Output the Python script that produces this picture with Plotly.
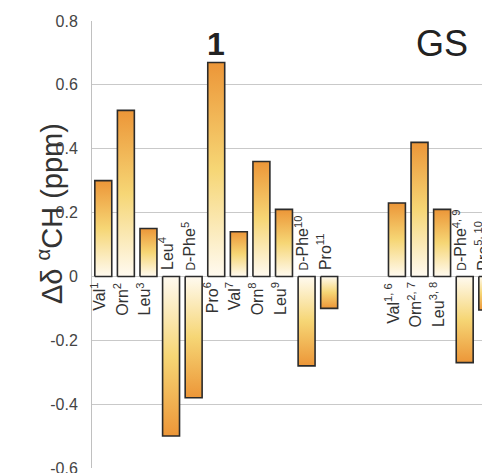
import plotly.graph_objects as go

# Data
labels_1 = ["Val<sup>1</sup>", "Orn<sup>2</sup>", "Leu<sup>3</sup>", "Leu<sup>4</sup>",
            "<span style='font-size:12px'>D</span>-Phe<sup>5</sup>", "Pro<sup>6</sup>", "Val<sup>7</sup>",
            "Orn<sup>8</sup>", "Leu<sup>9</sup>",
            "<span style='font-size:12px'>D</span>-Phe<sup>10</sup>", "Pro<sup>11</sup>"]
values_1 = [0.30, 0.52, 0.15, -0.50, -0.38, 0.67, 0.14, 0.36, 0.21, -0.28, -0.10]
positions_1 = [0, 1, 2, 3, 4, 5, 6, 7, 8, 9, 10]

labels_gs = ["Val<sup>1, 6</sup>", "Orn<sup>2, 7</sup>", "Leu<sup>3, 8</sup>",
             "<span style='font-size:12px'>D</span>-Phe<sup>4, 9</sup>", "Pro<sup>5, 10</sup>"]
values_gs = [0.23, 0.42, 0.21, -0.27, -0.105]
positions_gs = [13, 14, 15, 16, 17]

tick_vals = [-0.6, -0.4, -0.2, 0, 0.2, 0.4, 0.6, 0.8]
tick_text = ["-0.6", "-0.4", "-0.2", "0", "0.2", "0.4", "0.6", "0.8"]

FONT = "Liberation Sans, Arial, sans-serif"
BAR_W = 0.75
scale_pos = [[0, "#fffaf0"], [0.5, "#f6d675"], [1, "#ec9638"]]
scale_neg = [[0, "#ec9638"], [0.5, "#f6d675"], [1, "#fffaf0"]]

fig = go.Figure()
annotations = []

all_pos = positions_1 + positions_gs
all_val = values_1 + values_gs
all_lab = labels_1 + labels_gs

for p, v, lab in zip(all_pos, all_val, all_lab):
    x0, x1 = p - BAR_W / 2, p + BAR_W / 2
    if v >= 0:
        grad = dict(type="vertical", colorscale=scale_pos, start=0, stop=v)
    else:
        grad = dict(type="vertical", colorscale=scale_neg, start=v, stop=0)
    fig.add_trace(go.Scatter(
        x=[x0, x1, x1, x0, x0], y=[0, 0, v, v, 0],
        mode="lines", fill="toself", fillgradient=grad,
        line=dict(color="#2b2b2b", width=1.6),
        hoverinfo="skip", showlegend=False, cliponaxis=True,
    ))
    annotations.append(dict(
        x=p, y=0, xref="x", yref="y", text=lab, showarrow=False,
        textangle=-90, xanchor="center",
        yanchor="top" if v >= 0 else "bottom",
        yshift=-4 if v >= 0 else 4, xshift=-5,
        font=dict(family=FONT, size=16, color="#333333"),
    ))

annotations.append(dict(x=5, y=0.728, xref="x", yref="y", text="<b>1</b>", showarrow=False,
                        font=dict(family=FONT, size=32, color="#222222")))
annotations.append(dict(x=15, y=0.728, xref="x", yref="y", text="GS", showarrow=False,
                        font=dict(family=FONT, size=36, color="#222222")))
annotations.append(dict(x=-0.156, y=0.57, xref="paper", yref="paper",
                        text="Δδ <sup>α</sup>CH (ppm)", showarrow=False, textangle=-90,
                        font=dict(family=FONT, size=29, color="#333333")))

fig.update_layout(
    width=490, height=473,
    margin=dict(l=84, r=8, t=13, b=13, autoexpand=False),
    paper_bgcolor="white", plot_bgcolor="white",
    annotations=annotations,
    xaxis=dict(range=[-0.5, 17.12], showticklabels=False, showgrid=False,
               zeroline=False, showline=False, fixedrange=True, automargin=False),
    yaxis=dict(range=[-0.6, 0.8], tickvals=tick_vals, ticktext=tick_text,
               showgrid=True, gridcolor="#c9c9c9", gridwidth=1,
               zeroline=True, zerolinecolor="#c9c9c9", zerolinewidth=1,
               showline=True, linecolor="#c0c0c0", linewidth=1,
               ticks="", ticklabelstandoff=10, automargin=False,
               ticklabeloverflow="allow",
               tickfont=dict(family=FONT, size=16, color="#444444")),
)

fig.write_html("out.html")
